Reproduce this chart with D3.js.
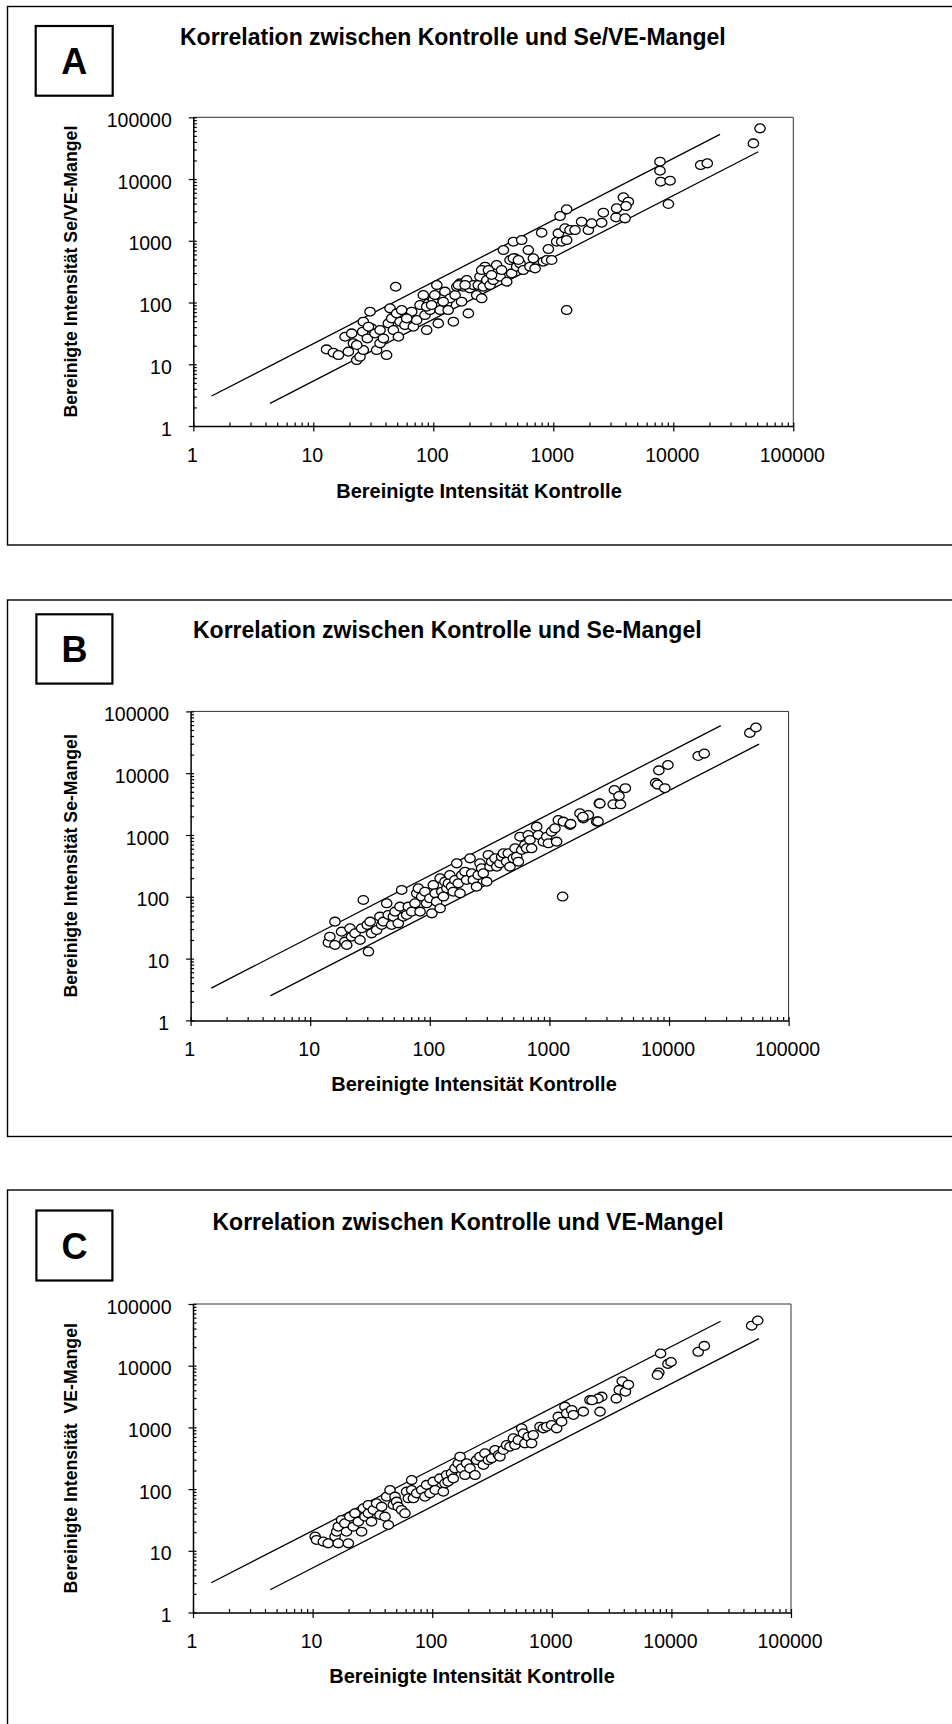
<!DOCTYPE html>
<html><head><meta charset="utf-8">
<script src="https://cdn.jsdelivr.net/npm/d3@7"></script>
<style>
body{margin:0;background:#fff}
svg{display:block}
text{font-family:"Liberation Sans",Arial,Helvetica,sans-serif;fill:#000}
</style>
</head><body>
<svg id="chart" width="952" height="1724"></svg>
<script>
// ---------- data ----------
const tickValues = [1, 10, 100, 1000, 10000, 100000];
const tickLabels = ["1", "10", "100", "1000", "10000", "100000"];
const xAxisTitle = "Bereinigte Intensität Kontrolle";
const panelLetters = ["A", "B", "C"];
const panelTitles = [
  "Korrelation zwischen Kontrolle und Se/VE-Mangel",
  "Korrelation zwischen Kontrolle und Se-Mangel",
  "Korrelation zwischen Kontrolle und VE-Mangel"
];
const yAxisTitles = [
  "Bereinigte Intensität Se/VE-Mangel",
  "Bereinigte Intensität Se-Mangel",
  "Bereinigte Intensität  VE-Mangel"
];

// [Kontrolle, Mangel] pairs
const pointsA = [
  [12.9,17.4],[14.7,15.4],[16.2,14.1],[18.4,27.9],[19.6,16.0],[20.9,31.6],[21.6,21.8],[23.0,11.7],[24.5,13.2],[26.1,17.0],
  [26.1,48.9],[25.8,33.7],[28.2,26.2],[29.7,71.0],[30.6,38.1],[32.7,31.6],[33.7,17.0],[36.0,21.8],[38.4,26.2],[40.8,14.1],
  [42.2,45.9],[43.6,80.4],[45.0,55.3],[46.5,35.8],[49.5,66.7],[51.2,27.9],[52.8,48.9],[54.5,75.5],[58.1,43.2],[62.0,58.9],
  [66.1,71.0],[68.2,40.6],[72.7,52.0],[77.5,91.0],[82.6,132],[85.3,62.7],[88.1,35.8],[91.0,96.8],[93.8,75.5],[100,110],
  [107,192],[110,45.9],[114,75.5],[117,124],[125,150],[129,96.8],[133,75.5],[138,117],[147,48.9],[152,132],
  [157,180],[167,204],[172,103],[178,180],[190,231],[196,66.7],[202,169],[216,192],[230,132],[237,192],
  [245,262],[253,117],[261,180],[270,380],[279,231],[297,192],[316,231],[327,296],[337,405],[360,262],
  [371,336],[384,708],[409,217],[436,488],[450,296],[465,966],[480,519],[495,380],[528,431],[545,1028],
  [562,336],[619,708],[639,380],[682,519],[705,357],[800,1352],[826,458],[881,488],[910,735],[969,488],
  [1067,966],[1102,1318],[1138,2518],[1175,966],[1253,1589],[1292,3228],[1292,1028],[1377,1493],[1517,1493],[1722,2037],
  [1959,1493],[2089,1914],[2531,1963],[2612,2851],[48.6,180],[1292,75.5],[88.1,85.5],[96.8,91.0],[103,132],[121,103],
  [162,192],[184,192],[253,336],[288,336],[306,279],[465,519],[512,488],[60.0,55.3],[36.0,35.8],[23.0,20.5],[28.8,40.6],
  [3334,2393],[3373,3350],[3963,2307],[3837,5050],[4220,4297],[4036,3656],[7745,19100],[7745,13650],[7850,9060],[9400,9400],
  [9100,3940],[16900,16870],[19200,17950],[46500,37800],[52800,66200]
];
const pointsB = [
  [14.2,18.1],[14.6,22.6],[16.1,16.6],[16.1,39.6],[18.3,27.3],[19.5,18.8],[20.2,16.6],[21.5,30.9],[22.2,22.6],[23.7,25.6],
  [26.1,20.0],[26.9,30.9],[27.8,88.8],[30.0,35.0],[30.7,13.0],[31.7,39.6],[32.6,25.6],[35.9,29.0],[38.3,47.7],[39.6,35.0],
  [40.9,39.6],[43.6,78.5],[45.0,50.8],[48.0,35.0],[49.6,47.7],[51.2,57.5],[54.5,37.2],[56.3,69.3],[58.2,129],[60.0,47.7],
  [64.1,50.8],[66.1,69.3],[70.6,57.5],[75.2,78.5],[77.7,114],[80.3,137],[82.9,57.5],[85.6,101],[91.1,121],[94.1,78.5],
  [100,94.6],[104,54.0],[107,155],[111,114],[114,83.5],[122,65.1],[122,199],[126,121],[130,101],[134,176],
  [139,137],[143,165],[147,225],[152,146],[157,121],[162,187],[168,348],[173,165],[179,114],[185,225],
  [197,255],[203,187],[217,419],[224,240],[231,187],[246,146],[254,225],[263,348],[271,289],[280,240],
  [299,176],[309,475],[319,307],[329,370],[351,419],[363,307],[386,348],[399,446],[412,505],[439,370],
  [453,505],[468,307],[499,419],[516,609],[533,446],[550,370],[568,939],[587,572],[624,690],[645,609],
  [666,1000],[688,831],[710,609],[783,1364],[808,1000],[890,781],[950,939],[981,734],[1043,1132],[1113,1282],
  [1149,781],[1187,1748],[1308,1643],[1488,1452],[1801,2242],[1921,1861],[2116,2107],[2486,1643],[2616,3258],[1290,101],
  [2643,3221],[3493,5346],[3414,3140],[4318,5715],[3929,3140],[3819,4275],[7740,6966],[8222,11100],[9795,13570],[8030,6540],
  [9220,5715],[17540,18970],[19720,20750],[47400,44900],[53300,54900],[2549,1660],[1906,1971],[1507,1513]
];
const pointsC = [
  [10.5,17.0],[10.8,15.0],[12.3,14.1],[13.5,13.2],[15.4,17.0],[15.9,20.4],[16.4,13.2],[16.4,24.6],[17.5,31.6],[18.6,27.9],
  [19.2,20.4],[19.9,13.2],[20.5,35.8],[21.9,24.6],[22.6,40.5],[24.1,29.7],[25.7,20.4],[26.6,48.8],[27.4,35.8],[29.3,40.5],
  [29.3,55.3],[31.1,29.7],[32.2,45.9],[34.3,58.8],[36.6,38.1],[37.8,51.9],[40.3,35.8],[41.6,75.4],[43.0,26.2],[44.4,96.7],
  [47.4,55.3],[48.9,75.4],[50.4,62.6],[52.0,51.9],[55.5,45.9],[59.2,40.5],[61.1,90.9],[63.2,70.9],[67.4,140],[67.4,96.7],
  [69.6,70.9],[74.2,85.4],[81.7,96.7],[87.0,75.4],[89.8,117],[95.8,85.4],[102,132],[106,96.7],[116,149],[124,90.9],
  [128,124],[132,169],[136,132],[145,180],[150,149],[155,217],[165,262],[171,335],[176,217],[188,169],
  [194,262],[207,217],[228,169],[235,296],[251,335],[268,246],[276,380],[295,296],[314,315],[335,430],
  [358,357],[368,335],[393,430],[419,518],[447,487],[477,665],[492,518],[525,624],[560,965],[579,801],
  [596,551],[636,707],[678,551],[700,752],[797,1027],[850,965],[907,1027],[996,1093],[1098,965],[1133,1494],
  [1209,1237],[1289,2171],[1331,1692],[1467,1917],[1515,1591],[1834,1801],[2086,2783],[2532,1801],[2615,3151],
  [3460,2930],[3665,4055],[3884,5610],[4124,3790],[4368,4920],[7850,7730],[7650,7063],[8120,15770],[9350,10690],[9930,11480],
  [16750,16800],[18840,20940],[46900,44500],[52700,54000],[2434,2930],[2170,2750]
];

// Reference lines (start and end points)
const upperLineA = [[1.42,3.06],[24500,53000]];
const lowerLineA = [[4.36,2.33],[51100,27700]];
const upperLineB = [[1.49,3.33],[27100,58900]];
const lowerLineB = [[4.64,2.49],[56600,29500]];
const upperLineC = [[1.42,3.03],[25800,52600]];
const lowerLineC = [[4.42,2.34],[54000,27500]];

// ---------- layout (positions only) ----------
const layout = [
  {frameTop:6.5, frameBottom:545, box:[35.7,26,77,69.7], titleX:180, titleY:45,
   x0:193.3, x1:793.3, y0:117.3, y1:426, xTitleX:479, xTitleY:498, yTitleX:77},
  {frameTop:600, frameBottom:1136.5, box:[36.4,614.3,76,69.3], titleX:193, titleY:638,
   x0:190.6, x1:788.6, y0:711.4, y1:1020.4, xTitleX:474, xTitleY:1090.5, yTitleX:77},
  {frameTop:1190, frameBottom:1800, box:[36.4,1210.5,76,70], titleX:212.5, titleY:1230,
   x0:193, x1:791, y0:1304, y1:1612.5, xTitleX:472, xTitleY:1682.5, yTitleX:77}
];

const panels = [
  {points: pointsA, lines: [upperLineA, lowerLineA]},
  {points: pointsB, lines: [upperLineB, lowerLineB]},
  {points: pointsC, lines: [upperLineC, lowerLineC]}
];

const svg = d3.select("#chart");

panels.forEach((p, i) => {
  const L = layout[i];
  const g = svg.append("g");

  // panel frame
  g.append("rect")
    .attr("x", 7.5).attr("y", L.frameTop)
    .attr("width", 1000).attr("height", L.frameBottom - L.frameTop)
    .attr("fill", "none").attr("stroke", "#000").attr("stroke-width", 1.4);

  // letter box
  const [bx, by, bw, bh] = L.box;
  g.append("rect").attr("x", bx).attr("y", by).attr("width", bw).attr("height", bh)
    .attr("fill", "#fff").attr("stroke", "#000").attr("stroke-width", 2.2);
  g.append("text").attr("x", bx + bw / 2).attr("y", by + bh / 2 + 13)
    .attr("text-anchor", "middle").attr("font-size", 36).attr("font-weight", "bold")
    .text(panelLetters[i]);

  // title
  g.append("text").attr("x", L.titleX).attr("y", L.titleY)
    .attr("font-size", 23).attr("font-weight", "bold")
    .text(panelTitles[i]);

  const x = d3.scaleLog().domain([1, 100000]).range([L.x0, L.x1]);
  const y = d3.scaleLog().domain([1, 100000]).range([L.y1, L.y0]);
  const allTicks = x.ticks();

  // plot area top/right border
  g.append("path")
    .attr("d", `M${L.x0},${L.y0}H${L.x1}V${L.y1}`)
    .attr("fill", "none").attr("stroke", "#333").attr("stroke-width", 1);

  // x axis: inner ticks (all)
  const gxIn = g.append("g").attr("transform", `translate(0,${L.y1})`)
    .call(d3.axisBottom(x).tickValues(allTicks).tickSize(-3.5).tickSizeOuter(0).tickFormat(""));
  gxIn.select(".domain").remove();
  // x axis: major ticks + labels
  const gx = g.append("g").attr("transform", `translate(0,${L.y1})`)
    .call(d3.axisBottom(x).tickValues(tickValues).tickSize(5.5).tickSizeOuter(0)
      .tickFormat((d, k) => tickLabels[k]));
  gx.selectAll("text").attr("font-size", 19.5).attr("font-family", null)
    .attr("dy", null).attr("y", 35.7).attr("x", -1.5);
  g.selectAll(".tick line, .domain").attr("stroke", "#000").attr("stroke-width", 1.2);

  // y axis: inner ticks
  const gyIn = g.append("g").attr("transform", `translate(${L.x0},0)`)
    .call(d3.axisLeft(y).tickValues(allTicks).tickSize(-3.5).tickSizeOuter(0).tickFormat(""));
  gyIn.select(".domain").remove();
  // y axis major
  const gy = g.append("g").attr("transform", `translate(${L.x0},0)`)
    .call(d3.axisLeft(y).tickValues(tickValues).tickSize(4.5).tickSizeOuter(0)
      .tickFormat((d, k) => tickLabels[k]));
  gy.selectAll("text").attr("font-size", 19.5).attr("font-family", null)
    .attr("dy", null).attr("y", 9).attr("x", -21.5);
  g.selectAll(".tick line, .domain").attr("stroke", "#000").attr("stroke-width", 1.2);
  g.selectAll(".domain").attr("stroke-width", 1.5);

  // axis titles
  g.append("text").attr("x", L.xTitleX).attr("y", L.xTitleY)
    .attr("text-anchor", "middle").attr("font-size", 20).attr("font-weight", "bold")
    .text(xAxisTitle);
  g.append("text")
    .attr("transform", `translate(${L.yTitleX},${(L.y0 + L.y1) / 2}) rotate(-90)`)
    .attr("text-anchor", "middle").attr("font-size", 17.7).attr("font-weight", "bold")
    .style("white-space", "pre")
    .text(yAxisTitles[i]);

  // reference lines
  const line = d3.line().x(d => x(d[0])).y(d => y(d[1]));
  g.selectAll("path.ref").data(p.lines).join("path").attr("class", "ref")
    .attr("d", line).attr("fill", "none").attr("stroke", "#000").attr("stroke-width", 1.3);

  // points
  g.selectAll("ellipse.pt").data(p.points).join("ellipse").attr("class", "pt")
    .attr("cx", d => x(d[0])).attr("cy", d => y(d[1]))
    .attr("rx", 5.2).attr("ry", 4.4)
    .attr("fill", "#fff").attr("stroke", "#000").attr("stroke-width", 1.3);
});
</script>
</body></html>
